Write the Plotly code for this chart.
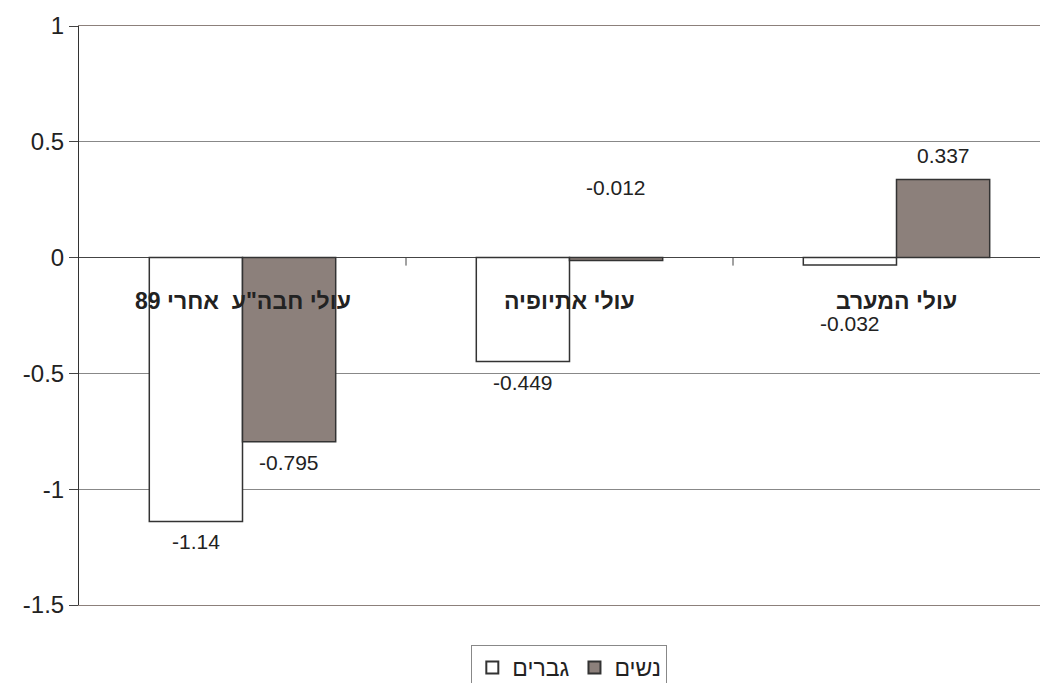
import plotly.graph_objects as go

categories = ['עולי חבה"ע  אחרי 89', 'עולי אתיופיה', 'עולי המערב']
series_names = ['גברים', 'נשים']
men_values = [-1.14, -0.449, -0.032]
women_values = [-0.795, -0.012, 0.337]
men_labels = ['-1.14', '-0.449', '-0.032']
women_labels = ['-0.795', '-0.012', '0.337']
y_ticks = [1, 0.5, 0, -0.5, -1, -1.5]
y_tick_labels = ['1', '0.5', '0', '-0.5', '-1', '-1.5']

# styling (pixel offsets of the value labels from bar ends)
men_label_shift = [-20, -21, -58]
women_label_shift = [-21, 73, 24]

RLE, PDF = '\u202b', '\u202c'
FONT = 'Liberation Sans, Arial, sans-serif'
WOMEN_COLOR = '#8C807B'
EDGE = '#333333'
BARGAP = 0.43

idx = list(range(len(categories)))
fig = go.Figure()
fig.add_trace(go.Bar(x=idx, y=men_values, name=series_names[0],
                     marker=dict(color='white', line=dict(color=EDGE, width=1.5))))
fig.add_trace(go.Bar(x=idx, y=women_values, name=series_names[1],
                     marker=dict(color=WOMEN_COLOR, line=dict(color=EDGE, width=1.5))))

half = (1 - BARGAP) / 4
annotations = []
for i in idx:
    annotations.append(dict(x=i - half, y=men_values[i], xref='x', yref='y', text=men_labels[i],
                            showarrow=False, yshift=men_label_shift[i], yanchor='middle',
                            font=dict(size=21, color='#222', family=FONT)))
    annotations.append(dict(x=i + half, y=women_values[i], xref='x', yref='y', text=women_labels[i],
                            showarrow=False, yshift=women_label_shift[i], yanchor='middle',
                            font=dict(size=21, color='#222', family=FONT)))
    annotations.append(dict(x=i, y=0, xref='x', yref='y', text='<b>' + RLE + categories[i] + PDF + '</b>',
                            showarrow=False, yshift=-43, yanchor='middle',
                            font=dict(size=23, color='#222', family=FONT)))

shapes = []
for b in [i + 0.5 for i in idx[:-1]]:
    shapes.append(dict(type='line', xref='x', yref='paper', x0=b, x1=b,
                       y0=(0 - (-1.5)) / 2.5, y1=(0 - (-1.5)) / 2.5 - 8 / 579,
                       line=dict(color='#444', width=1)))

x_right = len(categories) - 0.5 - (1060 - 1048) / 327

fig.update_layout(
    width=1040, height=675,
    margin=dict(l=71, r=0, t=18, b=78, autoexpand=False),
    paper_bgcolor='white', plot_bgcolor='white',
    barmode='group', bargap=BARGAP, bargroupgap=0,
    font=dict(family=FONT, color='#222'),
    showlegend=True,
    legend=dict(orientation='h', x=0.506, xanchor='center', y=-0.069, yanchor='top',
                bordercolor='#888', borderwidth=1, font=dict(size=23, family=FONT),
                bgcolor='white', itemsizing='constant', itemwidth=30),
    annotations=annotations,
    shapes=shapes,
)
fig.update_xaxes(range=[-0.5, x_right], showticklabels=False, showgrid=False,
                 zeroline=False, showline=True, mirror=True, linecolor='#8C807B', linewidth=1,
                 ticks='')
fig.update_yaxes(range=[-1.5, 1], tickvals=y_ticks, ticktext=y_tick_labels,
                 showgrid=True, gridcolor='#888', gridwidth=1,
                 zeroline=True, zerolinecolor='#444', zerolinewidth=1,
                 showline=True, linecolor='#333', linewidth=1,
                 ticks='outside', ticklen=9, tickcolor='#444',
                 tickfont=dict(size=24, color='#222', family=FONT))

fig.write_html('out.html')
